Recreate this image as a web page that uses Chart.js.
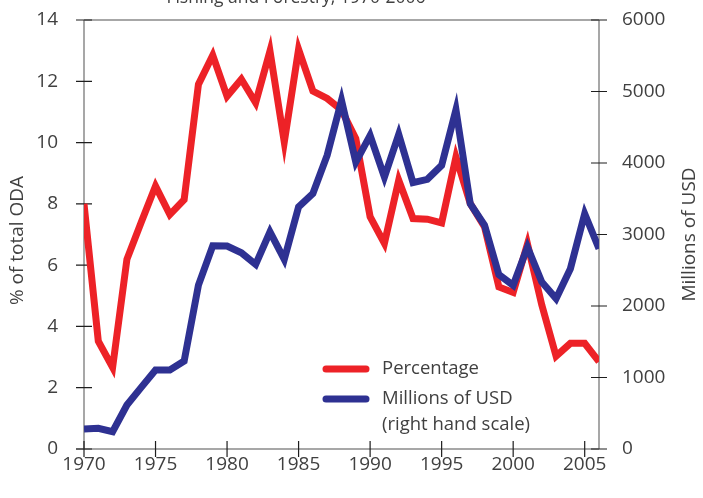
<!DOCTYPE html>
<html>
<head>
<meta charset="utf-8">
<script src="https://cdn.jsdelivr.net/npm/chart.js@4/dist/chart.umd.min.js"></script>
<style>
html,body{margin:0;padding:0;background:#fff;}
canvas{display:block;}
</style>
</head>
<body>
<canvas id="c" width="703" height="498"></canvas>
<script>
const TITLE = "Fishing and Forestry, 1970-2006";
const YEARS = [1970,1971,1972,1973,1974,1975,1976,1977,1978,1979,1980,1981,1982,1983,1984,1985,1986,1987,1988,1989,1990,1991,1992,1993,1994,1995,1996,1997,1998,1999,2000,2001,2002,2003,2004,2005,2006];
const PERCENTAGE = [8.0,3.52,2.66,6.19,7.4,8.58,7.65,8.14,11.9,12.85,11.51,12.07,11.3,12.99,10.02,13.04,11.68,11.44,11.06,10.13,7.58,6.71,8.77,7.52,7.5,7.38,9.53,8.01,7.25,5.29,5.11,6.69,4.7,3.03,3.45,3.45,2.85];
const MILLIONS_USD = [279,289,242,615,862,1104,1104,1230,2292,2842,2838,2744,2581,3038,2652,3387,3574,4110,4875,4013,4386,3803,4400,3725,3771,3967,4745,3431,3128,2439,2289,2825,2336,2103,2522,3291,2802];
const X_TICKS = [1970,1975,1980,1985,1990,1995,2000,2005];
const LEFT_TICKS = [0,2,4,6,8,10,12,14];
const RIGHT_TICKS = [0,1000,2000,3000,4000,5000,6000];
const SERIES_NAMES = ["Percentage", "Millions of USD", "(right hand scale)"];
const LEFT_TITLE = "% of total ODA";
const RIGHT_TITLE = "Millions of USD";

const RED = '#ED2227';
const BLUE = '#2E3192';
const TEXT = '#404040';
const FONT = '"Open Sans", "DejaVu Sans", sans-serif';

const framePlugin = {
  id: 'frame',
  beforeDatasetsDraw(chart) {
    const {ctx, chartArea: a, scales} = chart;
    const x = scales.x, y = scales.y, y1 = scales.y1;
    ctx.save();
    ctx.strokeStyle = '#8a8a8a';
    ctx.lineWidth = 1.5;
    ctx.beginPath();
    ctx.moveTo(a.left, a.top); ctx.lineTo(a.right, a.top);
    ctx.moveTo(a.left, a.top); ctx.lineTo(a.left, a.bottom);
    ctx.moveTo(a.right, a.top); ctx.lineTo(a.right, a.bottom);
    ctx.moveTo(a.left - 8, a.bottom); ctx.lineTo(a.right, a.bottom);
    ctx.stroke();
    ctx.strokeStyle = '#1e1e1e';
    ctx.lineWidth = 1.2;
    ctx.beginPath();
    y.ticks.forEach(t => { const p = y.getPixelForValue(t.value); ctx.moveTo(a.left - 8, p); ctx.lineTo(a.left + 8, p); });
    y1.ticks.forEach(t => { const p = y1.getPixelForValue(t.value); ctx.moveTo(a.right - 8, p); ctx.lineTo(a.right + 8, p); });
    x.ticks.forEach(t => { const p = x.getPixelForValue(t.value); ctx.moveTo(p, a.bottom - 8); ctx.lineTo(p, a.bottom + 8); });
    ctx.stroke();
    ctx.restore();
  },
  afterDraw(chart) {
    const {ctx, chartArea: a} = chart;
    const midY = (a.top + a.bottom) / 2;
    ctx.save();
    ctx.fillStyle = TEXT;
    // title (cut off at top)
    ctx.font = '17.5px ' + FONT;
    ctx.textAlign = 'center';
    ctx.textBaseline = 'alphabetic';
    ctx.fillText(TITLE, 296, 3);
    ctx.font = '19px ' + FONT;
    // axis titles
    ctx.textBaseline = 'middle';
    ctx.save();
    ctx.translate(18, midY + 6);
    ctx.rotate(-Math.PI / 2);
    ctx.fillText(LEFT_TITLE, 0, 0);
    ctx.restore();
    ctx.save();
    ctx.translate(690, midY);
    ctx.rotate(-Math.PI / 2);
    ctx.fillText(RIGHT_TITLE, 0, 0);
    ctx.restore();
    // legend
    const lx0 = 326, lx1 = 366, tx = 382;
    ctx.lineWidth = 7;
    ctx.lineCap = 'round';
    ctx.strokeStyle = RED;
    ctx.beginPath(); ctx.moveTo(lx0, 369); ctx.lineTo(lx1, 369); ctx.stroke();
    ctx.strokeStyle = BLUE;
    ctx.beginPath(); ctx.moveTo(lx0, 399); ctx.lineTo(lx1, 399); ctx.stroke();
    ctx.textAlign = 'left';
    ctx.font = '18.5px ' + FONT;
    ctx.fillText(SERIES_NAMES[0], tx, 369);
    ctx.fillText(SERIES_NAMES[1], tx, 399);
    ctx.fillText(SERIES_NAMES[2], tx, 425);
    ctx.restore();
  }
};

const tickFont = {family: FONT, size: 19};

new Chart(document.getElementById('c'), {
  type: 'line',
  data: {
    datasets: [
      {
        label: SERIES_NAMES[0],
        data: YEARS.map((yr, i) => ({x: yr, y: PERCENTAGE[i]})),
        yAxisID: 'y',
        borderColor: RED,
        borderWidth: 7,
        pointRadius: 0,
        tension: 0,
        fill: false,
        order: 1
      },
      {
        label: SERIES_NAMES[1],
        data: YEARS.map((yr, i) => ({x: yr, y: MILLIONS_USD[i]})),
        yAxisID: 'y1',
        borderColor: BLUE,
        borderWidth: 7,
        pointRadius: 0,
        tension: 0,
        fill: false,
        order: 0
      }
    ]
  },
  options: {
    responsive: false,
    animation: false,
    layout: {padding: {top: 20, left: 0, right: 0, bottom: 0}},
    plugins: {legend: {display: false}, tooltip: {enabled: false}, title: {display: false}},
    scales: {
      x: {
        type: 'linear',
        min: 1970, max: 2006,
        grid: {display: false}, border: {display: false},
        afterBuildTicks: s => { s.ticks = X_TICKS.map(v => ({value: v})); },
        afterFit: s => { s.height = 49; s.paddingLeft = 0; s.paddingRight = 0; },
        ticks: {font: tickFont, color: TEXT, padding: -4, maxRotation: 0, autoSkip: false, callback: v => String(v)}
      },
      y: {
        position: 'left',
        min: 0, max: 14,
        grid: {display: false}, border: {display: false},
        afterBuildTicks: s => { s.ticks = LEFT_TICKS.map(v => ({value: v})); },
        afterFit: s => { s.width = 84; s.paddingTop = 0; s.paddingBottom = 0; },
        ticks: {font: tickFont, color: TEXT, padding: 18, callback: v => String(v)}
      },
      y1: {
        position: 'right',
        min: 0, max: 6000,
        grid: {display: false}, border: {display: false},
        afterBuildTicks: s => { s.ticks = RIGHT_TICKS.map(v => ({value: v})); },
        afterFit: s => { s.width = 104; s.paddingTop = 0; s.paddingBottom = 0; },
        ticks: {font: tickFont, color: TEXT, padding: 15, callback: v => String(v)}
      }
    }
  },
  plugins: [framePlugin]
});
</script>
</body>
</html>
